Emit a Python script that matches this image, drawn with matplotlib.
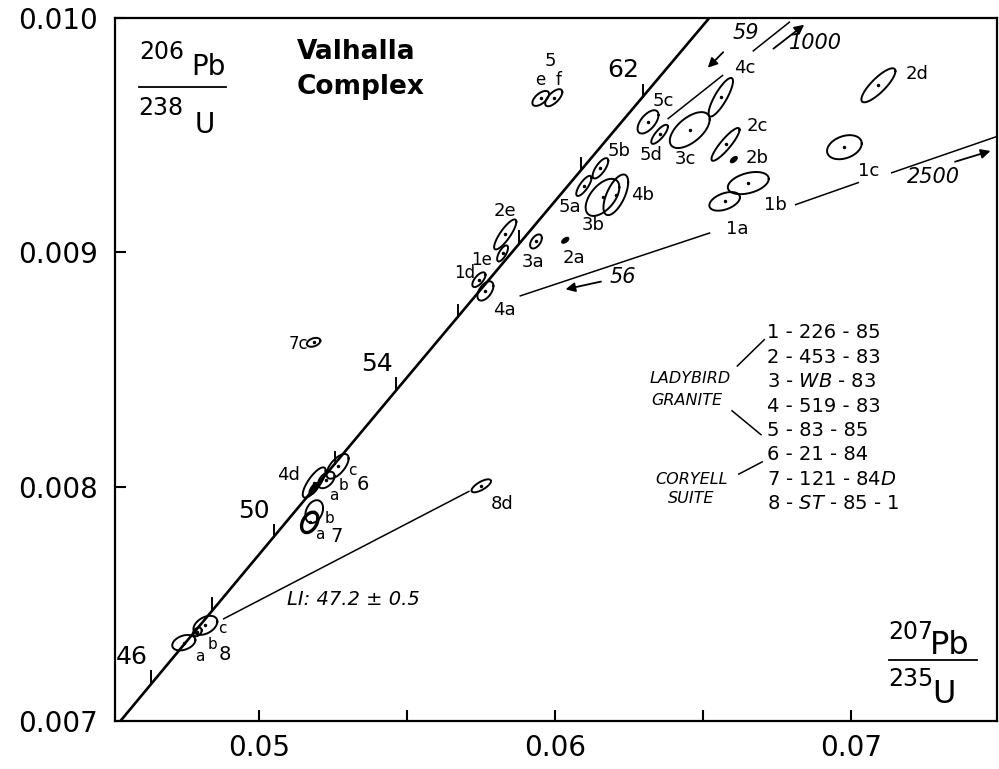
import numpy as np
import matplotlib
matplotlib.use("agg")
import matplotlib.pyplot as plt

# U-Pb decay constants (1/yr)
LAMBDA_238 = 1.55125e-10
LAMBDA_235 = 9.8485e-10

# Zircon fractions: 207Pb/235U, 206Pb/238U, error half-widths and correlation
spot_ids = ["1a", "1b", "1c", "1d", "1e", "2a", "2b", "2c", "2d", "2e",
            "3a", "3b", "3c", "4a", "4b", "4c", "4d", "5a", "5b", "5c",
            "5d", "5e", "5f", "6a", "6b", "6c", "7a", "7b", "7c", "8a",
            "8b", "8c", "8d"]
pb207_u235 = [0.06573, 0.06653, 0.06978, 0.05742, 0.05822, 0.06034, 0.06604,
              0.06576, 0.07093, 0.05831, 0.05935, 0.06160, 0.06455, 0.05764,
              0.06205, 0.06560, 0.05185, 0.06097, 0.06153, 0.06314, 0.06353,
              0.05951, 0.05995, 0.05184, 0.05226, 0.05264, 0.05170, 0.05185,
              0.05183, 0.04744, 0.04790, 0.04817, 0.05750]
pb206_u238 = [0.009218, 0.009296, 0.009449, 0.008884, 0.008996, 0.009052,
              0.009396, 0.009461, 0.009713, 0.009077, 0.009047, 0.009235,
              0.009522, 0.008836, 0.009246, 0.009662, 0.008019, 0.009284,
              0.009359, 0.009557, 0.009504, 0.009657, 0.009660, 0.007993,
              0.008030, 0.008088, 0.007849, 0.007895, 0.008617, 0.007336,
              0.007382, 0.007410, 0.008005]
err207 = [0.000517, 0.000692, 0.000586, 0.000222, 0.000184, 0.000117, 0.000112,
          0.000474, 0.000575, 0.000375, 0.000199, 0.000570, 0.000674, 0.000270,
          0.000418, 0.000412, 0.000387, 0.000258, 0.000264, 0.000354, 0.000281,
          0.000281, 0.000289, 0.000159, 0.000279, 0.000373, 0.000277, 0.000299,
          0.000227, 0.000390, 0.000146, 0.000404, 0.000329]
err206 = [0.0000397, 0.0000472, 0.0000513, 0.0000314, 0.0000341, 0.0000120,
          0.0000128, 0.0000700, 0.0000725, 0.0000640, 0.0000300, 0.0000791,
          0.0000766, 0.0000411, 0.0000866, 0.0000823, 0.0000646, 0.0000430,
          0.0000433, 0.0000496, 0.0000407, 0.0000319, 0.0000364, 0.0000255,
          0.0000352, 0.0000526, 0.0000433, 0.0000486, 0.0000190, 0.0000330,
          0.0000184, 0.0000405, 0.0000277]
rho = [0.43, 0.38, 0.31, 0.66, 0.69, 0.58, 0.59, 0.89, 0.83, 0.84, 0.50, 0.54,
       0.59, 0.52, 0.62, 0.83, 0.78, 0.78, 0.73, 0.59, 0.79, 0.59, 0.66, 0.67,
       0.47, 0.64, 0.38, 0.30, 0.36, 0.34, 0.34, 0.40, 0.72]
filled_spots = ["2a", "2b", "6a"]

# Concordia ages (Ma)
tick_ages = [46, 48, 50, 52, 54, 56, 58, 60, 62]
labelled_ages = [46, 50, 54, 62]

# Reference chords (NaN = gap for labels)
chord56_x = [0.05882, 0.06522, np.nan, 0.06813, 0.07025, np.nan, 0.07138, 0.07490]
chord56_y = [0.008815, 0.009083, np.nan, 0.009204, 0.009298, np.nan, 0.009340, 0.009493]
chord59_x = [0.06382, 0.06566, np.nan, 0.06670, 0.06792]
chord59_y = [0.009571, 0.009755, np.nan, 0.009860, 0.009982]
chord_li_x = [0.04879, 0.05708]
chord_li_y = [0.007438, 0.007981]

# Arrows: (tail, head, label, label position)
arrows = [
    ((0.06568, 0.009854), (0.06516, 0.009788), "59", (0.06645, 0.009936)),
    ((0.06738, 0.009869), (0.06842, 0.009971), "1000", (0.06881, 0.009893)),
    ((0.07352, 0.009387), (0.07472, 0.009433), "2500", (0.07279, 0.009322)),
    ((0.06155, 0.008876), (0.06035, 0.008843), "56", (0.06229, 0.008895)),
]

# Spot labels: text, x, y, fontsize
spot_labels = [
    ("5", 0.05982, 0.009818, 13), ("e", 0.05949, 0.009734, 12),
    ("f", 0.06010, 0.009736, 12), ("5c", 0.06367, 0.009644, 13),
    ("5d", 0.06324, 0.009416, 13), ("3c", 0.06439, 0.009398, 13),
    ("4c", 0.06642, 0.009787, 13), ("5b", 0.06216, 0.009433, 13),
    ("5a", 0.06051, 0.009192, 13), ("3b", 0.06127, 0.009116, 13),
    ("4b", 0.06296, 0.009246, 13), ("2e", 0.05830, 0.009175, 13),
    ("1e", 0.05751, 0.008969, 12), ("3a", 0.05926, 0.008958, 13),
    ("2a", 0.06062, 0.008978, 13), ("1d", 0.05695, 0.008912, 12),
    ("4a", 0.05827, 0.008753, 13), ("2c", 0.06682, 0.009538, 13),
    ("2b", 0.06682, 0.009401, 13), ("1b", 0.06745, 0.009203, 13),
    ("1a", 0.06614, 0.009101, 13), ("1c", 0.07060, 0.009348, 13),
    ("2d", 0.07223, 0.009760, 13), ("7c", 0.05132, 0.008610, 12),
    ("4d", 0.05098, 0.008052, 13), ("a", 0.05251, 0.007965, 11),
    ("b", 0.05283, 0.008006, 11), ("c", 0.05315, 0.008069, 11),
    ("6", 0.05351, 0.008012, 14), ("b", 0.05238, 0.007867, 11),
    ("a", 0.05203, 0.007796, 11), ("7", 0.05260, 0.007789, 14),
    ("a", 0.04797, 0.007279, 11), ("b", 0.04842, 0.007328, 11),
    ("c", 0.04875, 0.007395, 11), ("8", 0.04882, 0.007284, 14),
    ("8d", 0.05822, 0.007929, 13),
]

# Sample key
key_rows = ["1 - 226 - 85", "2 - 453 - 83", "3 - $\\mathit{WB}$ - 83",
            "4 - 519 - 83", "5 - 83 - 85", "6 - 21 - 84",
            "7 - 121 - 84$\\mathit{D}$", "8 - $\\mathit{ST}$ - 85 - 1"]
key_x = 0.06715
key_y0 = 0.008657
key_step = 0.000104
groups = [("LADYBIRD", 0.06455, 0.008462), ("GRANITE", 0.06446, 0.008369),
          ("CORYELL", 0.06461, 0.008032), ("SUITE", 0.06460, 0.007950)]
group_lines = [((0.06616, 0.06707), (0.008516, 0.008628)),
               ((0.06598, 0.06696), (0.008325, 0.008223)),
               ((0.06621, 0.06700), (0.008055, 0.008107))]


def concordia(age_ma):
    t = np.asarray(age_ma, dtype=float) * 1e6
    return np.expm1(LAMBDA_235 * t), np.expm1(LAMBDA_238 * t)


fig = plt.figure(figsize=(9.99, 7.69), dpi=100)
fig.set_facecolor("white")
ax = fig.add_axes((0.1151, 0.0618, 0.8829, 0.9148))
ax.set_xlim(0.045113, 0.074941)
ax.set_ylim(0.007, 0.010)

for side in ["left", "right", "top", "bottom"]:
    ax.spines[side].set_linewidth(1.6)

ax.set_xticks([0.05, 0.055, 0.06, 0.065, 0.07])
ax.set_xticklabels(["0.05", "", "0.06", "", "0.07"])
ax.set_yticks([0.007, 0.008, 0.009, 0.010])
ax.set_yticklabels(["0.007", "0.008", "0.009", "0.010"])
ax.tick_params(axis="both", direction="in", length=8, width=1.5,
               labelsize=20, color="black")
ax.tick_params(axis="x", pad=9)
ax.tick_params(axis="y", pad=12)

# Concordia curve with age ticks
ages = np.linspace(44, 65, 300)
cx, cy = concordia(ages)
ax.plot(cx, cy, color="black", lw=1.9, zorder=3)
tick_len = 0.000052
for age in tick_ages:
    x, y = concordia(age)
    ax.plot([x, x], [y, y + tick_len], color="black", lw=1.4, zorder=3)
for age in labelled_ages:
    x, y = concordia(age)
    ax.annotate(str(age), (x, y), xytext=(-14, 19), textcoords="offset points",
                ha="center", va="center", fontsize=18)

# Chords
for xs, ys in [(chord56_x, chord56_y), (chord59_x, chord59_y),
               (chord_li_x, chord_li_y)]:
    ax.plot(xs, ys, color="black", lw=1.1, zorder=2)

for tail, head, text, pos in arrows:
    ax.annotate("", xy=head, xytext=tail,
                arrowprops=dict(arrowstyle="-|>", color="black", lw=1.3,
                                mutation_scale=14, shrinkA=0, shrinkB=0))
    ax.text(pos[0], pos[1], text, ha="center", va="center", fontsize=15,
            style="italic")

ax.text(0.05318, 0.007522, "LI: 47.2 ± 0.5", ha="center", va="center",
        fontsize=14, style="italic")

# Error ellipses
t = np.linspace(0, 2 * np.pi, 120)
for sid, x0, y0, ex, ey, r in zip(spot_ids, pb207_u235, pb206_u238,
                                  err207, err206, rho):
    ex_pts = x0 + ex * np.cos(t)
    ey_pts = y0 + ey * (r * np.cos(t) + np.sqrt(1 - r ** 2) * np.sin(t))
    if sid in filled_spots:
        ax.fill(ex_pts, ey_pts, color="black", lw=1, zorder=4)
    else:
        lw = 2.4 if sid == "7a" else 1.4
        ax.plot(ex_pts, ey_pts, color="black", lw=lw, zorder=4)
        ax.plot(x0, y0, "o", color="black", ms=1.5, zorder=4)

for text, x, y, size in spot_labels:
    ax.text(x, y, text, ha="center", va="center", fontsize=size)

# Title
ax.text(0.05127, 0.009823, "Valhalla", fontsize=19, fontweight="bold",
        ha="left", va="baseline")
ax.text(0.05127, 0.009678, "Complex", fontsize=19, fontweight="bold",
        ha="left", va="baseline")

# Sample key
for i, row in enumerate(key_rows):
    ax.text(key_x, key_y0 - i * key_step, row, fontsize=14, ha="left",
            va="center")
for text, x, y in groups:
    ax.text(x, y, text, fontsize=11.5, style="italic", ha="center",
            va="center")
for xs, ys in group_lines:
    ax.plot(xs, ys, color="black", lw=1.1)

# Axis ratio labels
tr = ax.transAxes
ax.text(0.0270, 0.9423, "206", transform=tr, fontsize=17, va="baseline")
ax.text(0.0863, 0.9187, "Pb", transform=tr, fontsize=20, va="baseline")
ax.plot([0.0270, 0.1255], [0.9019, 0.9019], transform=tr, color="black", lw=1.3)
ax.text(0.0265, 0.8627, "238", transform=tr, fontsize=17, va="baseline")
ax.text(0.0898, 0.8360, "U", transform=tr, fontsize=20, va="baseline")

ax.text(0.8770, 0.1171, "207", transform=tr, fontsize=17, va="baseline")
ax.text(0.9244, 0.0954, "Pb", transform=tr, fontsize=23, va="baseline")
ax.plot([0.8777, 0.9774], [0.0867, 0.0867], transform=tr, color="black", lw=1.3)
ax.text(0.8766, 0.0503, "235", transform=tr, fontsize=17, va="baseline")
ax.text(0.9264, 0.0269, "U", transform=tr, fontsize=23, va="baseline")

fig.savefig("out.png", dpi=100)
